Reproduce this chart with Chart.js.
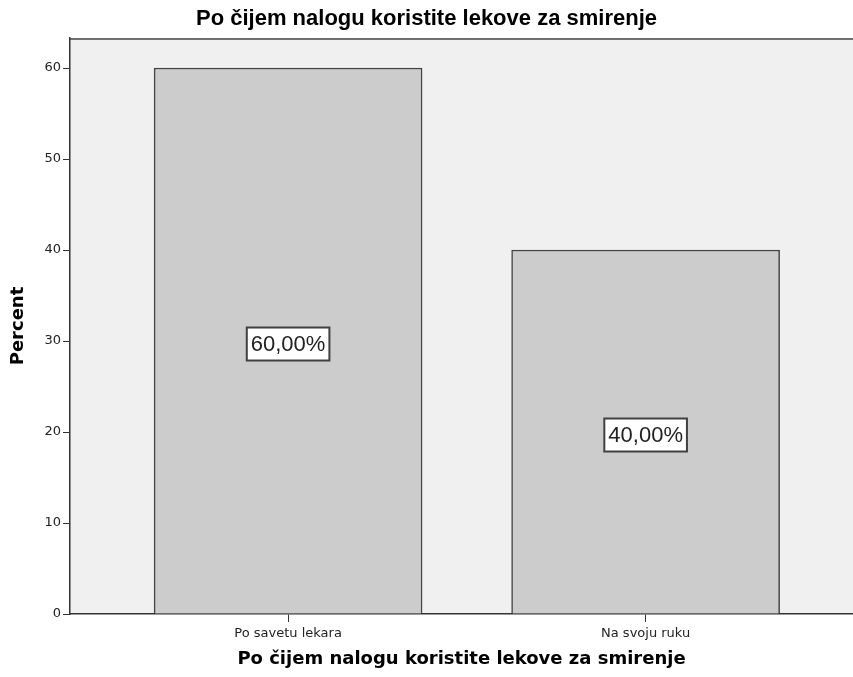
<!DOCTYPE html>
<html>
<head>
<meta charset="utf-8">
<script src="https://cdn.jsdelivr.net/npm/chart.js@4.4.0/dist/chart.umd.min.js"></script>
<style>
  html, body { margin: 0; padding: 0; background: #fff; }
  #wrap { width: 853px; height: 677px; }
</style>
</head>
<body>
<div id="wrap"><canvas id="chart"></canvas></div>
<script>
const categories = ['Po savetu lekara', 'Na svoju ruku'];
const percents = [60, 40];
const valueLabels = ['60,00%', '40,00%'];
const yTicks = [0, 10, 20, 30, 40, 50, 60];

const chartTitle = 'Po čijem nalogu koristite lekove za smirenje';
const FONT = "'Liberation Sans', Arial, sans-serif";
const WIDE = "'DejaVu Sans', Verdana, sans-serif";

// plot background + top border
const plotFrame = {
    id: 'plotFrame',
    beforeDraw(chart) {
        const a = chart.chartArea, c = chart.ctx;
        c.save();
        c.fillStyle = '#f0f0f0';
        c.fillRect(a.left, a.top, a.right - a.left, a.bottom - a.top);
        c.strokeStyle = '#707070';
        c.lineWidth = 2;
        c.beginPath();
        c.moveTo(a.left, a.top + 1);
        c.lineTo(a.right, a.top + 1);
        c.stroke();
        c.restore();
    }
};

// boxed percent labels in the middle of each bar
const boxLabels = {
    id: 'boxLabels',
    afterDatasetsDraw(chart) {
        const c = chart.ctx;
        const xs = chart.scales.x, ys = chart.scales.y;
        c.save();
        c.font = '22px ' + FONT;
        c.textAlign = 'center';
        c.textBaseline = 'middle';
        percents.forEach((v, i) => {
            const x = xs.getPixelForValue(i);
            const y = ys.getPixelForValue(v / 2) + 3;
            const w = c.measureText(valueLabels[i]).width + 8;
            const h = 33;
            c.fillStyle = '#ffffff';
            c.fillRect(x - w / 2, y - h / 2, w, h);
            c.strokeStyle = '#404040';
            c.lineWidth = 2;
            c.strokeRect(x - w / 2, y - h / 2, w, h);
            c.fillStyle = '#222222';
            c.fillText(valueLabels[i], x, y + 1);
        });
        c.restore();
    }
};

const ctx = document.getElementById('chart');
new Chart(ctx, {
    type: 'bar',
    data: {
        datasets: [{
            data: percents.map((v, i) => ({ x: i, y: v })),
            backgroundColor: '#cccccc',
            borderColor: '#444444',
            borderWidth: 1.5,
            barThickness: 268
        }]
    },
    options: {
        responsive: true,
        maintainAspectRatio: false,
        animation: false,
        layout: { padding: 0 },
        plugins: {
            legend: { display: false },
            tooltip: { enabled: false },
            title: {
                display: true,
                text: chartTitle,
                color: '#000',
                font: { family: FONT, size: 22, weight: 'bold' },
                padding: { top: 6, bottom: 5.6 }
            }
        },
        scales: {
            x: {
                type: 'linear',
                min: -0.61,
                max: 1.58,
                offset: false,
                afterBuildTicks(scale) {
                    scale.ticks = categories.map((c, i) => ({ value: i }));
                },
                afterFit(scale) { scale.height = 63; },
                ticks: {
                    autoSkip: false,
                    maxRotation: 0,
                    color: '#222',
                    padding: 4,
                    font: { family: WIDE, size: 13 },
                    callback: (v) => categories[v]
                },
                grid: { offset: false, drawOnChartArea: false, tickLength: 8, color: '#333', tickColor: '#333' },
                border: { color: '#333', width: 1.5 },
                title: {
                    display: true,
                    text: chartTitle,
                    color: '#000',
                    font: { family: WIDE, size: 18, weight: 'bold' },
                    padding: { top: 0, bottom: 7 }
                }
            },
            y: {
                min: 0,
                max: 63.3,
                afterBuildTicks(scale) {
                    scale.ticks = yTicks.map(v => ({ value: v }));
                },
                afterFit(scale) { scale.width = 70; },
                ticks: {
                    color: '#222',
                    padding: 2,
                    font: { family: WIDE, size: 13 }
                },
                grid: { drawOnChartArea: false, tickLength: 7, color: '#333', tickColor: '#333' },
                border: { color: '#333', width: 1.5 },
                title: {
                    display: true,
                    text: 'Percent',
                    color: '#000',
                    font: { family: WIDE, size: 18, weight: 'bold' },
                    padding: { top: 8, bottom: 0 }
                }
            }
        }
    },
    plugins: [plotFrame, boxLabels]
});
</script>
</body>
</html>
